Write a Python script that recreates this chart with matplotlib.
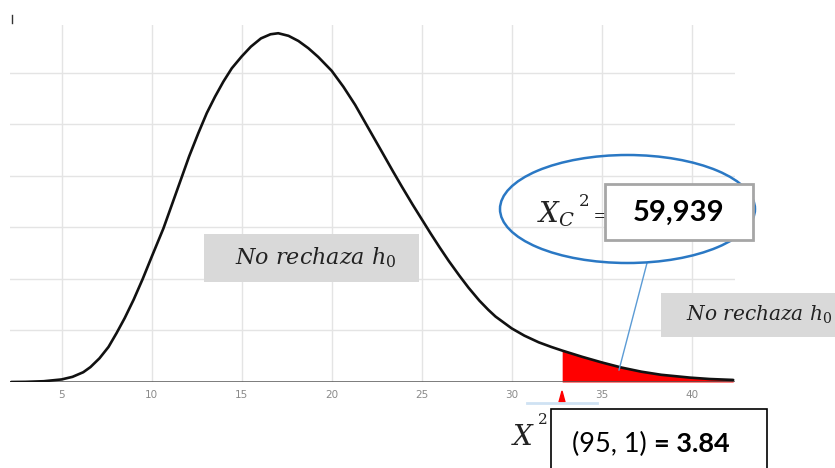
import matplotlib.pyplot as plt
from matplotlib.patches import Ellipse, Rectangle, Polygon
from matplotlib.lines import Line2D

plt.rcParams['mathtext.fontset'] = 'dejavuserif'

# curve (x, height in grid units)
curve_x = [2.2, 3.0, 4.0, 5.0, 5.6, 6.2, 6.6, 7.1, 7.6, 8.05, 8.5, 9.0, 9.5, 10.0, 10.65,
           11.1, 11.57, 12.08, 12.59, 13.06, 13.52, 13.98, 14.45, 15.0, 15.51, 16.07, 16.6,
           17.03, 17.6, 18.15, 18.7, 19.25, 20.0, 20.65, 21.3, 22.0, 22.8, 23.4, 23.9, 24.5,
           25.0, 25.5, 26.0, 26.5, 27.1, 27.6, 28.2, 28.7, 29.1, 30.0, 30.7, 31.5, 32.2, 32.8,
           33.9, 35.0, 36.1, 37.2, 38.3, 39.9, 41.0, 42.3]
curve_y = [0.0, 0.003, 0.015, 0.05, 0.10, 0.19, 0.29, 0.46, 0.68, 0.95, 1.24, 1.60, 2.0, 2.43, 2.98,
           3.42, 3.88, 4.38, 4.83, 5.22, 5.54, 5.83, 6.09, 6.32, 6.51, 6.67, 6.75,
           6.77, 6.72, 6.62, 6.48, 6.31, 6.04, 5.73, 5.38, 4.95, 4.46, 4.09, 3.79, 3.44,
           3.16, 2.88, 2.61, 2.35, 2.06, 1.83, 1.58, 1.40, 1.27, 1.04, 0.90, 0.77, 0.68, 0.61,
           0.49, 0.38, 0.28, 0.20, 0.14, 0.085, 0.058, 0.04]
critical_x = 32.8
xticks = [5, 10, 15, 20, 25, 30, 35, 40]
region_label = r'$No\ rechaza\ h_0$'
calc_value = '59,939'
table_left = '(95, 1) '
table_right = '= 3.84'

W, H = 835, 468
fig = plt.figure(figsize=(W / 100, H / 100), dpi=100)


def fx(px):
    return px / W


def fy(py):
    return 1 - py / H


ax = fig.add_axes([fx(10), fy(382), fx(735) - fx(10), fy(25) - fy(382)])
ax.set_xlim(2.13, 42.4)
ax.set_ylim(0, 6.93)
for v in xticks:
    ax.axvline(v, color='#e4e4e4', lw=1, zorder=0)
for h in range(1, 7):
    ax.axhline(h, color='#e4e4e4', lw=1, zorder=0)
ax.axhline(0, color='#555555', lw=1.8, zorder=3)

tx = [x for x in curve_x if x >= critical_x]
ty = [y for x, y in zip(curve_x, curve_y) if x >= critical_x]
ax.fill_between(tx, 0, ty, color='#ff0000', lw=0, zorder=2)
ax.plot(curve_x, curve_y, color='#111111', lw=1.9, zorder=4,
        solid_capstyle='round', solid_joinstyle='round')

for s in ax.spines.values():
    s.set_visible(False)
ax.set_xticks(xticks)
ax.set_xticklabels([str(v) for v in xticks])
ax.set_yticks([])
ax.tick_params(axis='x', length=0, pad=6, labelsize=7.5, labelcolor='#8a8a8a')

# small mark top left
fig.add_artist(Line2D([fx(12), fx(12)], [fy(15), fy(23)], color='#333333', lw=1))

# red marker and blue underline below axis
fig.add_artist(Polygon([[fx(559), fy(402)], [fx(565), fy(402)], [fx(562), fy(391)]],
                       closed=True, color='#ff0000', transform=fig.transFigure))
fig.add_artist(Line2D([fx(527), fx(597)], [fy(403), fy(403)], color='#cfe2f3', lw=2))

# grey labels
fig.add_artist(Rectangle((fx(204), fy(282)), fx(419) - fx(204), fy(234) - fy(282),
                         transform=fig.transFigure, facecolor='#d9d9d9', edgecolor='none'))
fig.text(fx(316), fy(258), region_label, fontsize=16, ha='center', va='center', color='#222222')
fig.add_artist(Rectangle((fx(661), fy(337)), fx(900) - fx(661), fy(293) - fy(337),
                         transform=fig.transFigure, facecolor='#d9d9d9', edgecolor='none'))
fig.text(fx(686), fy(315), region_label, fontsize=14.5, ha='left', va='center', color='#222222')

# ellipse with calculated value
fig.add_artist(Line2D([fx(647), fx(619)], [fy(263), fy(370)], color='#5b9bd5', lw=1, zorder=5))
fig.add_artist(Ellipse((fx(627.5), fy(209)), fx(255), 108 / H, transform=fig.transFigure,
                       facecolor='none', edgecolor='#2a78c4', lw=1.8, zorder=5))
fig.text(fx(556), fy(214), r'$X_C$', fontsize=20, ha='center', va='center', color='#222222', zorder=6)
fig.text(fx(584), fy(201), '2', fontsize=12, family='DejaVu Serif', ha='center', va='center',
         color='#222222', zorder=6)
fig.text(fx(602), fy(216), '=', fontsize=15, family='DejaVu Serif', ha='center', va='center',
         color='#222222', zorder=6)
fig.add_artist(Rectangle((fx(605), fy(240)), fx(753) - fx(605), fy(184) - fy(240),
                         transform=fig.transFigure, facecolor='white', edgecolor='#a6a6a6',
                         lw=2, zorder=7))
fig.text(fx(679), fy(213), calc_value, fontsize=21, family='Lato', weight='bold',
         ha='center', va='center', color='black', zorder=8)

# critical value table
fig.text(fx(523), fy(437), r'$X$', fontsize=20, ha='center', va='center', color='#222222')
fig.text(fx(543), fy(420), '2', fontsize=11, family='DejaVu Serif', ha='center', va='center',
         color='#222222')
fig.add_artist(Rectangle((fx(551), fy(470)), fx(767) - fx(551), fy(409) - fy(470),
                         transform=fig.transFigure, facecolor='white', edgecolor='black', lw=1.2))
t1 = fig.text(fx(572), fy(444), table_left, fontsize=19.5, family='Lato', ha='left', va='center',
              color='black')
fig.canvas.draw()
bb = t1.get_window_extent()
fig.text(bb.x1 / W, fy(444), table_right, fontsize=19.5, family='Lato', weight='bold',
         ha='left', va='center', color='black')

fig.savefig('out.png', dpi=100)
